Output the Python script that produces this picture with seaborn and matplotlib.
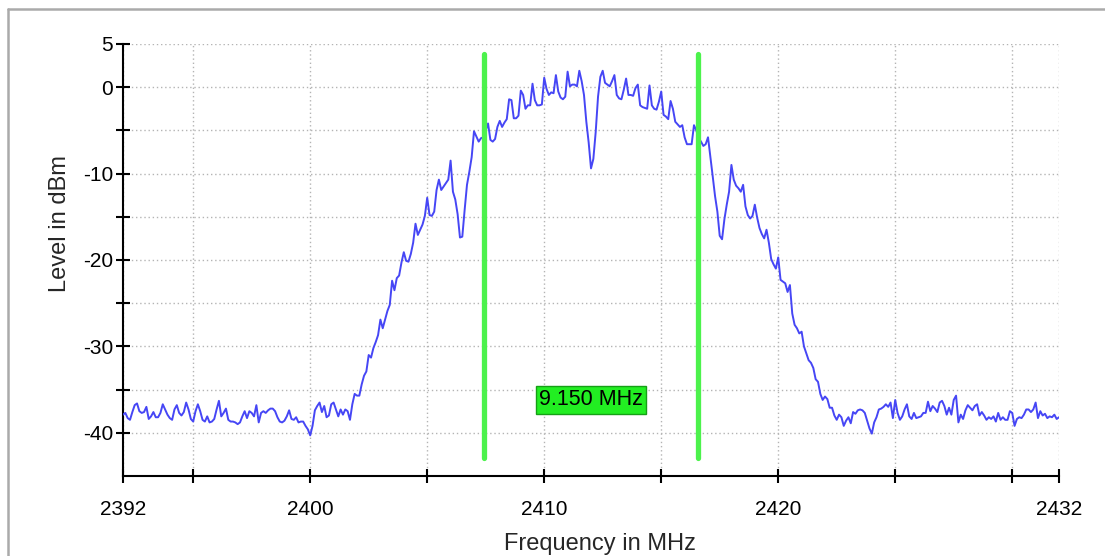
import numpy as np
import matplotlib
matplotlib.use("Agg")
import matplotlib.pyplot as plt
from matplotlib.lines import Line2D
import seaborn as sns

# ---------------------------------------------------------------------------
# Data, 0.1 MHz sweep steps
# ---------------------------------------------------------------------------
f_start, f_stop = 2392.0, 2432.0

# 2392.0 - 2399.9 MHz: noise floor
level_floor_left = [
    -37.9, -37.7, -38.3, -38.5, -37.6, -36.8, -36.6, -37.5, -37.7, -37.6,
    -37.0, -38.4, -38.1, -37.6, -38.2, -38.2, -37.7, -36.7, -37.3, -37.9,
    -38.3, -38.5, -37.3, -36.8, -37.7, -38.0, -37.6, -36.5, -37.3, -38.4,
    -38.7, -37.5, -36.7, -37.5, -38.5, -38.7, -38.1, -38.8, -38.7, -38.4,
    -37.3, -36.3, -38.1, -37.7, -37.2, -38.5, -38.7, -38.7, -38.8, -39.0,
    -38.8, -38.1, -37.5, -38.3, -37.5, -37.7, -38.1, -36.8, -38.8, -37.7,
    -37.5, -37.7, -37.4, -37.2, -37.2, -37.5, -38.2, -38.7, -38.8, -38.6,
    -38.1, -37.4, -38.4, -38.5, -38.2, -38.8, -38.7, -38.7, -39.2, -39.6,
]
# 2400.0 - 2406.9 MHz: rising edge
level_rise = [
    -40.3, -39.2, -37.4, -36.9, -36.5, -37.6, -36.9, -38.2, -38.0, -36.7,
    -36.5, -37.3, -38.1, -37.3, -37.9, -37.3, -37.5, -38.5, -36.7, -35.5,
    -35.7, -35.7, -34.4, -33.4, -32.9, -31.0, -31.3, -30.2, -29.5, -28.7,
    -26.9, -27.9, -26.9, -25.9, -25.2, -22.4, -23.5, -22.1, -21.8, -20.3,
    -19.1, -20.1, -20.2, -19.3, -18.0, -15.8, -17.1, -16.5, -15.9, -14.9,
    -12.8, -14.8, -14.9, -14.4, -11.9, -10.7, -11.9, -11.5, -11.1, -10.7,
    -8.5, -12.1, -13.0, -14.7, -17.4, -17.3, -14.2, -11.3, -9.8, -8.1,
]
# 2407.0 - 2416.9 MHz: channel top
level_top = [
    -5.1, -5.7, -6.3, -5.9, -5.8, -5.0, -4.2, -6.1, -6.3, -6.0,
    -4.6, -3.9, -4.6, -4.1, -3.7, -1.4, -1.5, -3.6, -3.6, -3.3,
    -0.4, -0.9, -2.5, -2.1, -2.1, 0.4, -1.5, -2.1, -2.1, -2.0,
    1.1, -0.2, -0.9, -0.6, -0.7, 1.4, -0.5, -1.2, -1.4, -1.1,
    1.8, 0.1, 0.3, 0.3, 0.1, 1.9, 0.7, -0.9, -4.0, -6.4,
    -9.4, -8.3, -5.2, -1.1, 1.2, 1.9, 0.5, 0.3, 0.1, 0.7,
    1.4, -0.9, -1.3, -1.4, -0.3, 1.0, -0.9, -0.9, -1.0, -0.1,
    0.3, -2.1, -2.3, -2.4, -2.5, 0.2, -2.1, -2.5, -2.6, -1.7,
    -0.5, -3.2, -3.4, -3.7, -1.6, -2.5, -4.0, -4.3, -4.6, -4.4,
    -5.8, -6.6, -6.6, -6.6, -4.4, -5.0, -5.9, -6.3, -6.8, -6.6,
]
# 2417.0 - 2423.9 MHz: falling edge
level_fall = [
    -5.8, -8.0, -10.3, -12.6, -14.4, -17.2, -17.6, -15.3, -13.6, -12.1,
    -9.0, -10.7, -11.4, -11.7, -12.1, -11.3, -13.8, -14.8, -15.2, -14.9,
    -13.6, -15.1, -16.3, -17.0, -17.5, -16.5, -18.0, -19.9, -20.5, -21.0,
    -19.7, -22.3, -22.5, -22.7, -23.7, -22.9, -26.2, -27.5, -27.9, -28.5,
    -28.3, -30.0, -30.8, -31.6, -31.9, -32.5, -33.8, -34.1, -35.5, -36.2,
    -35.8, -36.1, -37.1, -37.1, -38.0, -38.5, -37.9, -38.2, -39.2, -38.6,
    -38.2, -38.9, -37.6, -37.8, -37.4, -37.3, -37.4, -37.7, -38.6, -39.5,
]
# 2424.0 - 2432.0 MHz: noise floor
level_floor_right = [
    -40.1, -38.8, -38.2, -37.3, -37.2, -37.0, -36.7, -37.0, -36.5, -38.3,
    -36.2, -37.7, -38.5, -38.1, -37.3, -36.7, -38.1, -38.4, -37.7, -38.3,
    -38.2, -38.1, -37.7, -37.7, -36.4, -37.5, -36.9, -37.2, -37.6, -36.5,
    -36.3, -36.9, -37.9, -37.1, -37.9, -36.2, -35.7, -38.8, -37.9, -38.4,
    -37.4, -36.8, -37.1, -37.4, -36.9, -36.7, -38.0, -37.6, -38.0, -38.5,
    -38.2, -38.4, -38.1, -38.7, -37.7, -38.5, -38.2, -38.5, -38.5, -37.5,
    -37.7, -39.2, -38.4, -38.2, -38.3, -37.9, -37.3, -37.3, -37.6, -37.3,
    -36.5, -38.3, -37.5, -38.0, -37.8, -38.3, -38.1, -38.2, -37.9, -38.4,
    -38.2,
]

# occupied bandwidth markers
marker_freqs = [2407.425, 2416.575]
marker_top, marker_bottom = 3.8, -42.9
bw_label = "9.150 MHz"
bw_label_pos = (2412.0, -36.2)

x_ticks = [2392, 2395, 2400, 2405, 2410, 2415, 2420, 2425, 2430, 2432]
x_labeled = [2392, 2400, 2410, 2420, 2432]
y_ticks = [5, 0, -5, -10, -15, -20, -25, -30, -35, -40]
y_labeled = [5, 0, -10, -20, -30, -40]

levels = np.array(level_floor_left + level_rise + level_top
                  + level_fall + level_floor_right)
freqs = np.linspace(f_start, f_stop, len(levels))

# ---------------------------------------------------------------------------
# Plot
# ---------------------------------------------------------------------------
sns.set_style("white")
plt.rcParams["font.family"] = ["Liberation Sans", "DejaVu Sans"]

fig = plt.figure(figsize=(11.05, 5.56), dpi=100)
ax = fig.add_axes([0.1113, 0.1439, 0.8471, 0.7770])

sns.lineplot(x=freqs, y=levels, ax=ax, color="#4646f5", linewidth=1.4,
             zorder=3)

for fm in marker_freqs:
    ax.plot([fm, fm], [marker_bottom, marker_top], color="#4cf24c",
            linewidth=3.8, solid_capstyle="round", zorder=4)

ax.text(bw_label_pos[0], bw_label_pos[1], bw_label, ha="center", va="center",
        fontsize=15.5, color="black", zorder=5,
        bbox=dict(boxstyle="square,pad=0.15", facecolor="#22ee22",
                  edgecolor="#16a016", linewidth=1))

ax.set_xlim(f_start, f_stop)
ax.set_ylim(-45, 5)
ax.set_xticks(x_ticks)
ax.set_xticklabels([str(t) if t in x_labeled else "" for t in x_ticks])
ax.set_yticks(y_ticks)
ax.set_yticklabels([str(t) if t in y_labeled else "" for t in y_ticks])

ax.grid(True, color="#b4b4b4", linestyle=(0, (1, 2)), linewidth=1)
ax.set_axisbelow(True)
for side in ["top", "right"]:
    ax.spines[side].set_visible(False)
for side in ["left", "bottom"]:
    ax.spines[side].set_color("black")
    ax.spines[side].set_linewidth(1.5)

ax.tick_params(axis="both", which="major", direction="inout", length=10,
               width=1.5, color="black", labelsize=15, labelcolor="black",
               bottom=True, left=True, top=False, right=False)
ax.tick_params(axis="x", pad=12.5)
ax.tick_params(axis="y", pad=2)

ax.set_xlabel("Frequency in MHz", fontsize=17)
ax.set_ylabel("Level in dBm", fontsize=17)
ax.xaxis.set_label_coords(0.51, -0.133)
ax.yaxis.set_label_coords(-0.056, 0.585)

# light frame of the window (top and left edges)
fig.add_artist(Line2D([0.0075, 1.0], [0.984, 0.984], color="#aaaaaa",
                      linewidth=1.8, transform=fig.transFigure))
fig.add_artist(Line2D([0.0075, 0.0075], [0.0, 0.984], color="#aaaaaa",
                      linewidth=1.8, transform=fig.transFigure))

fig.savefig("out.png", dpi=100)
